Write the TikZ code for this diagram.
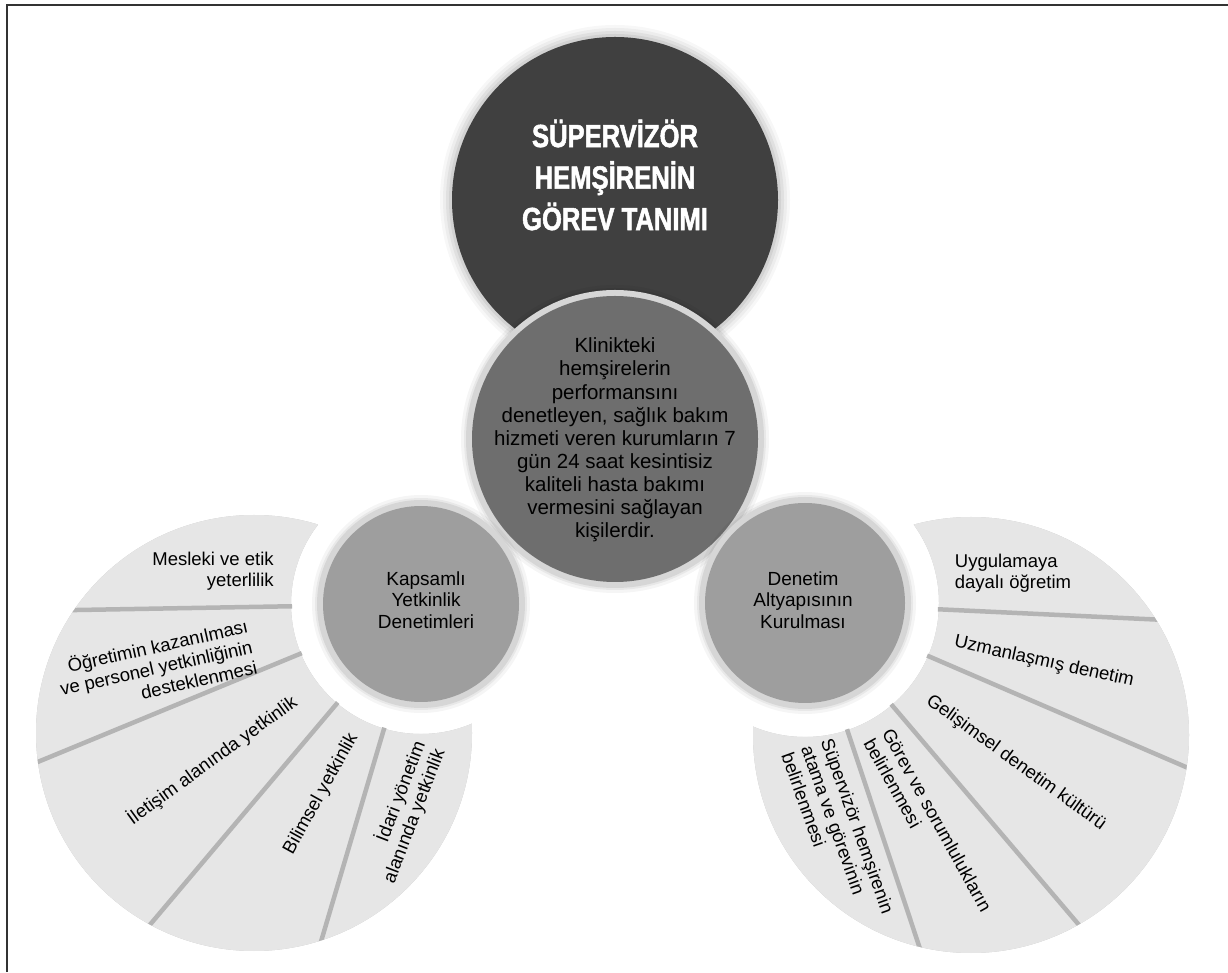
\documentclass[tikz,border=0pt]{standalone}
\usepackage{fontspec}
\setmainfont{Liberation Sans}
\newfontfamily\titlefont[FakeStretch=0.80, BoldFeatures={FakeBold=1.6}]{Liberation Sans}
\usetikzlibrary{calc}
\definecolor{topc}{HTML}{404040}
\definecolor{midc}{HTML}{6E6E6E}
\definecolor{smallc}{HTML}{9E9E9E}
\definecolor{wedgec}{HTML}{E6E6E6}
\definecolor{sepc}{HTML}{B4B4B4}
\definecolor{framec}{HTML}{333333}
\definecolor{ringc}{HTML}{D6D6D6}
\tikzset{
  fantext/.style={font=\fontsize{18.5}{21}\selectfont, text=black, inner sep=0pt},
  circtext/.style={font=\fontsize{19}{21.5}\selectfont, text=black, inner sep=0pt, align=center},
  midtext/.style={font=\fontsize{20.5}{23.1}\selectfont, text=black, inner sep=0pt, align=center},
  titletext/.style={font=\titlefont\bfseries\fontsize{32}{41.5}\selectfont, text=white, inner sep=0pt, align=center},
  wedge/.style={fill=wedgec},
  sepline/.style={draw=sepc, line width=4.5pt},
  disc/.style={circle, inner sep=0pt},
}
\begin{document}
\begin{tikzpicture}[x=1pt,y=1pt]
\useasboundingbox (0,0) rectangle (1228,972);
\fill[white] (0,0) rectangle (1228,972);
% frame
\draw[framec, line width=2.5pt] (7,0) -- (7,967) -- (1228,967);

% ---------- left fan ----------
\coordinate (CL) at (421,368);
\coordinate (OL) at (254,239);
\foreach \dx/\dy/\op in {2/-3/0.10, 4/-6/0.08, 6/-8/0.05}{
  \begin{scope}[shift={(\dx,\dy)}]
    \clip (OL) circle (218);
    \fill[black, opacity=\op, even odd rule] (OL) circle (220) (CL) circle (130);
  \end{scope}
}
\begin{scope}
  \clip (OL) circle (218);
  \foreach \a/\b in {90/181, 181/202.4, 202.4/229.8, 229.8/253.5, 253.5/340}{
    \fill[wedge] ($(CL)+(\a:130)$) -- ($(CL)+(\a:520)$) arc[start angle=\a, end angle=\b, radius=520]
      -- ($(CL)+(\b:130)$) arc[start angle=\b, end angle=\a, radius=130] -- cycle;
  }
  \foreach \a in {181,202.4,229.8,253.5}{
    \draw[sepline] ($(CL)+(\a:129)$) -- ($(CL)+(\a:520)$);
  }
\end{scope}

% ---------- right fan ----------
\coordinate (CR) at (805,369);
\coordinate (OR) at (971,237);
\foreach \dx/\dy/\op in {2/-3/0.10, 4/-6/0.08, 6/-8/0.05}{
  \begin{scope}[shift={(\dx,\dy)}]
    \clip (OR) circle (218);
    \fill[black, opacity=\op, even odd rule] (OR) circle (220) (CR) circle (134);
  \end{scope}
}
\begin{scope}
  \clip (OR) circle (218);
  \foreach \a/\b in {-2.7/90, -23.3/-2.7, -49.6/-23.3, -71.6/-49.6, -200/-71.6}{
    \fill[wedge] ($(CR)+(\a:134)$) -- ($(CR)+(\a:520)$) arc[start angle=\a, end angle=\b, radius=520]
      -- ($(CR)+(\b:134)$) arc[start angle=\b, end angle=\a, radius=134] -- cycle;
  }
  \foreach \a in {-2.7,-23.3,-49.6,-71.6}{
    \draw[sepline] ($(CR)+(\a:133)$) -- ($(CR)+(\a:520)$);
  }
\end{scope}

% ---------- top circle ----------
\foreach \d/\op in {12/0.03, 9/0.04, 6/0.05, 3/0.06}{
  \fill[black, opacity=\op] (615,772) circle (163+\d);
}
\node[disc, fill=topc, minimum size=326pt] (topcircle) at (615,772) {};

% ---------- middle circle ----------
\foreach \d/\op in {11/0.04, 8/0.05}{
  \fill[black, opacity=\op] (615,533) circle (143+\d);
}
\fill[ringc] (615,533) circle (149);
\node[disc, fill=midc, minimum size=286pt] (midcircle) at (615,533) {};

% ---------- small circles ----------
\foreach \d/\op in {11/0.04, 8/0.05}{
  \fill[black, opacity=\op] (CL) circle (98+\d);
  \fill[black, opacity=\op] (CR) circle (100+\d);
}
\fill[ringc] (CL) circle (104);
\fill[ringc] (CR) circle (106);
\node[disc, fill=smallc, minimum size=196pt] (leftcircle) at (CL) {};
\node[disc, fill=smallc, minimum size=200pt] (rightcircle) at (CR) {};

% ---------- texts ----------
\node[titletext] (title) at (615,797) {SÜPERVİZÖR\\HEMŞİRENİN\\GÖREV TANIMI};
\node[midtext] (definition) at (615,532) {Klinikteki\\hemşirelerin\\performansını\\denetleyen, sağlık bakım\\hizmeti veren kurumların 7\\gün 24 saat kesintisiz\\kaliteli hasta bakımı\\vermesini sağlayan\\kişilerdir.};
\node[circtext] (kapsamli) at (426,372) {Kapsamlı\\Yetkinlik\\Denetimleri};
\node[circtext] (denetim) at (803,372) {Denetim\\Altyapısının\\Kurulması};

\node[fantext, align=right] (mesleki) at (213,401) {Mesleki ve etik\\yeterlilik};
\node[fantext, align=right, rotate=12.6] (ogretim) at (156,305) {Öğretimin kazanılması\\ve personel yetkinliğinin\\desteklenmesi};
\node[fantext, align=right, rotate=36] (iletisim) at (212,212) {İletişim alanında yetkinlik};
\node[fantext, align=right, rotate=61] (bilimsel) at (321,178) {Bilimsel yetkinlik};
\node[fantext, align=right, rotate=69] (idari) at (404,160) {İdari yönetim\\alanında yetkinlik};

\node[fantext, align=left] (uygulama) at (1013,399) {Uygulamaya\\dayalı öğretim};
\node[fantext, align=left, rotate=-12.4] (uzman) at (1044,310) {Uzmanlaşmış denetim};
\node[fantext, align=left, rotate=-36] (gelisim) at (1016,209) {Gelişimsel denetim kültürü};
\node[fantext, align=left, rotate=-61] (gorev) at (928,147) {Görev ve sorumlulukların\\belirlenmesi};
\node[fantext, align=left, rotate=-70.4] (atama) at (838,139) {Süpervizör hemşirenin\\atama ve görevinin\\belirlenmesi};
\end{tikzpicture}
\end{document}
